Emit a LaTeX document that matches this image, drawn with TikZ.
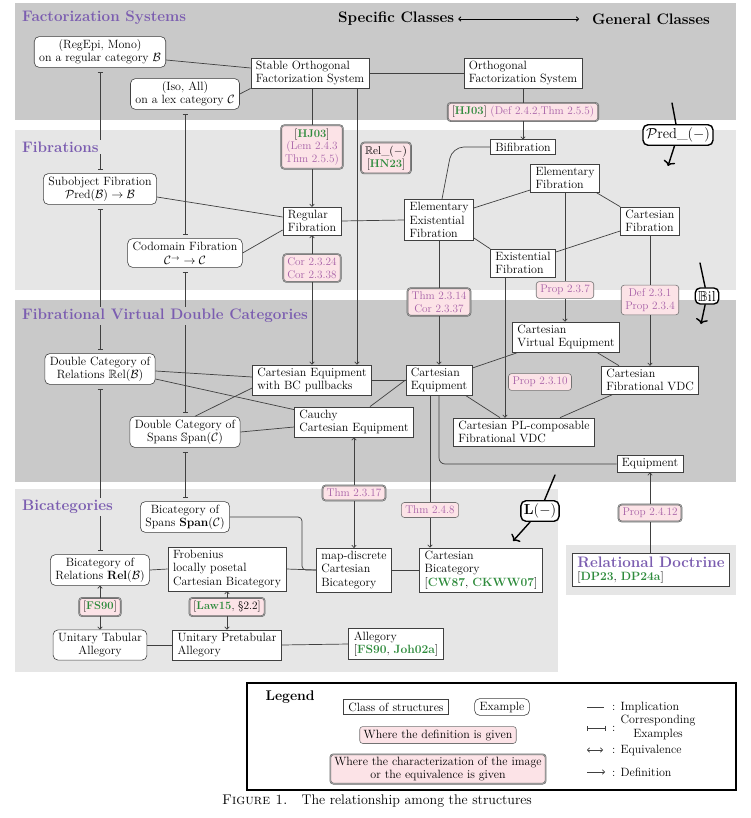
\documentclass[tikz,border=0pt]{standalone}
\usepackage{fix-cm}
\usepackage{amsmath,amssymb}
\usepackage{tikz}
\usetikzlibrary{arrows.meta,positioning,calc}
\usepackage{xcolor}
\definecolor{banddark}{HTML}{C9C9C9}
\definecolor{bandlight}{HTML}{E6E6E6}
\definecolor{headviolet}{HTML}{7B5DB0}
\definecolor{citegreen}{HTML}{2E8B3C}
\definecolor{refpink}{HTML}{A862A8}
\definecolor{labfill}{HTML}{FCE3E7}
\newcommand{\key}[1]{\textbf{\color{citegreen}#1}}
\newcommand{\cit}[1]{{\color{black}[#1]}}
\newcommand{\bodyfont}{\fontsize{12}{13.4}\selectfont}
\newcommand{\labfont}{\fontsize{11.2}{12.6}\selectfont}
\newcommand{\headfont}{\fontsize{15.2}{17}\selectfont\bfseries}

\begin{document}
\begin{tikzpicture}[x=1pt,y=-1pt,>={To[length=3pt,width=5pt]},
  cls/.style={draw=black!75,fill=white,line width=0.6pt,inner xsep=5pt,inner ysep=3pt,align=left,font=\bodyfont},
  exm/.style={cls,rounded corners=5pt,align=center},
  deflab/.style={draw=black!55,fill=labfill,rounded corners=3pt,line width=0.6pt,inner xsep=4pt,inner ysep=3.5pt,align=center,text=refpink,font=\labfont},
  charlab/.style={deflab,draw=black!60,double=black!30,double distance=0.5pt},
  imp/.style={draw=black!75,line width=0.7pt},
  corr/.style={imp,arrows={Bar[width=5pt]-Bar[width=5pt]},shorten <=4pt,shorten >=4pt},
  head/.style={anchor=west,text=headviolet,font=\headfont,inner sep=2pt},
  functor/.style={line width=1.4pt,line cap=round},
  funtip/.style={arrows={-To[length=5pt,width=12pt]}},
  funbox/.style={draw,line width=1.4pt,rounded corners=5pt,fill=white,inner sep=3pt,font=\fontsize{14.5}{16}\selectfont}]
  \useasboundingbox (0,0) rectangle (750,818);
  % Bands
  \fill[banddark] (15,3) rectangle (736,120);
  \fill[bandlight] (15,130) rectangle (736,290);
  \fill[banddark] (15,300) rectangle (736,482);
  \fill[bandlight] (15,489) rectangle (558,672);
  \fill[bandlight] (566,545) rectangle (736,595);

  % Factorization systems
  \node[exm] (exRegEpi) at (100,52) {(RegEpi, Mono)\\on a regular category $\mathcal{B}$};
  \node[exm] (exIso) at (185,94) {(Iso, All)\\on a lex category $\mathcal{C}$};
  \node[cls] (stOFS) at (310,73) {Stable Orthogonal\\Factorization System};
  \node[cls] (OFS) at (523,73) {Orthogonal\\Factorization System};
  \node[charlab] (labOFS) at (523,112) {\cit{\key{HJ03}} (Def 2.4.2,Thm 2.5.5)};

  % Fibrations
  \node[exm] (exSubobj) at (100,189) {Subobject Fibration\\$\mathcal{P}\mathrm{red}(\mathcal{B})\to\mathcal{B}$};
  \node[exm] (exCod) at (185,253) {Codomain Fibration\\[1pt]$\mathcal{C}^{\to}\to\mathcal{C}$};
  \node[cls] (regFib) at (312,221) {Regular\\Fibration};
  \node[cls] (bifib) at (523,147) {Bifibration};
  \node[cls] (elemExFib) at (439,220) {Elementary\\Existential\\Fibration};
  \node[cls] (elemFib) at (565,178) {Elementary\\Fibration};
  \node[cls] (cartFib) at (650,221) {Cartesian\\Fibration};
  \node[cls] (exFib) at (523,263) {Existential\\Fibration};
  \node[charlab] (labHJ) at (312,147) {\cit{\key{HJ03}}\\(Lem 2.4.3\\Thm 2.5.5)};
  \node[charlab] (labRel) at (386,158) {{\color{black}$\mathbb{R}\mathrm{el}\_(-)$}\\\cit{\key{HN23}}};
  \node[charlab] (labCor) at (312,268) {Cor 2.3.24\\Cor 2.3.38};
  \node[charlab] (labThmA) at (439,302) {Thm 2.3.14\\Cor 2.3.37};
  \node[deflab] (labProp237) at (565,290) {Prop 2.3.7};
  \node[deflab] (labDef) at (650,300) {Def 2.3.1\\Prop 2.3.4};

  % Fibrational VDCs
  \node[exm] (exRel2) at (100,369) {Double Category of\\Relations $\mathbb{R}\mathrm{el}(\mathcal{B})$};
  \node[exm] (exSpan2) at (185,432) {Double Category of\\Spans $\mathbb{S}\mathrm{pan}(\mathcal{C})$};
  \node[cls] (CEBC) at (312,380) {Cartesian Equipment\\with BC pullbacks};
  \node[cls] (cauchy) at (354,422) {Cauchy\\Cartesian Equipment};
  \node[cls] (cartEq) at (439,380) {Cartesian\\Equipment};
  \node[cls] (CVE) at (566,337) {Cartesian\\Virtual Equipment};
  \node[cls] (CFVDC) at (650,380) {Cartesian\\Fibrational VDC};
  \node[cls] (PLVDC) at (524,432) {Cartesian PL-composable\\Fibrational VDC};
  \node[cls] (equip) at (650,464) {Equipment};
  \node[deflab] (labProp2310) at (540,382) {Prop 2.3.10};

  % Bicategories
  \node[exm] (exSpanB) at (185,517) {Bicategory of\\Spans $\mathbf{Span}(\mathcal{C})$};
  \node[exm] (exRelB) at (100,570) {Bicategory of\\Relations $\mathbf{Rel}(\mathcal{B})$};
  \node[cls] (frob) at (227,569) {Frobenius\\locally posetal\\Cartesian Bicategory};
  \node[cls] (mapDisc) at (354,570) {map-discrete\\Cartesian\\Bicategory};
  \node[cls] (cartBicat) at (481,570) {Cartesian\\Bicategory\\\cit{\key{CW87}, \key{CKWW07}}};
  \node[exm] (unitTab) at (100,645) {Unitary Tabular\\Allegory};
  \node[cls] (unitPre) at (227,645) {Unitary Pretabular\\Allegory};
  \node[cls] (allegory) at (396,644) {Allegory\\\cit{\key{FS90}, \key{Joh02a}}};
  \node[charlab] (labFS) at (100,607) {\cit{\key{FS90}}};
  \node[charlab] (labLaw) at (227,607) {\cit{\key{Law15}, \S2.2}};
  \node[charlab] (labThmB) at (354,493) {Thm 2.3.17};
  \node[deflab] (labThmC) at (430,510) {Thm 2.4.8};

  % Relational doctrine
  \node[cls] (relDoc) at (651,570) {{\headfont\color{headviolet}Relational Doctrine}\\\cit{\key{DP23}, \key{DP24a}}};
  \node[charlab] (labProp2412) at (650,513) {Prop 2.4.12};

  % Implications
  \draw[imp] ([yshift=-8pt]exRegEpi.east) -- ([yshift=5pt]stOFS.west);
  \draw[imp] (exIso.east) -- (stOFS.south west);
  \draw[imp] (stOFS.east) -- (OFS.west);
  \draw[imp] ([yshift=-8pt]exSubobj.east) -- ([yshift=4pt]regFib.west);
  \draw[imp] (exCod.east) -- ([yshift=-9pt]regFib.west);
  \draw[imp] (regFib.east) -- (elemExFib.west);
  \coordinate (bifibBend) at (452,147);
  \draw[imp,rounded corners=12pt] ([xshift=3pt]elemExFib.north) -- (bifibBend) -- (bifib.west);
  \draw[imp] ([yshift=12pt]elemExFib.east) -- ([yshift=-12pt]elemFib.west);
  \draw[imp] ([yshift=3pt]elemExFib.south east) -- (exFib.north west);
  \draw[imp] ([xshift=-4pt]elemFib.south east) -- (cartFib.north west);
  \draw[imp] ([yshift=11pt]exFib.east) -- ([yshift=-10pt]cartFib.west);
  \draw[imp] ([yshift=-2pt]exRel2.east) -- ([yshift=3pt]CEBC.west);
  \draw[imp] ([yshift=-10pt]exRel2.east) -- ([yshift=-3pt]cauchy.north west);
  \draw[imp] ([xshift=10pt]exSpan2.north) -- ([yshift=-8pt]CEBC.west);
  \draw[imp] (exSpan2.east) -- ([yshift=-5pt]cauchy.west);
  \draw[imp] (CEBC.east) -- (cartEq.west);
  \draw[imp] ([xshift=16pt]cauchy.north) -- (cartEq.west);
  \draw[imp] ([yshift=12pt]cartEq.east) -- ([xshift=6pt]CVE.south west);
  \draw[imp] ([xshift=-7pt]cartEq.south east) -- ([xshift=-24pt]PLVDC.north);
  \draw[imp] ([xshift=-23pt]CVE.south east) -- ([xshift=18pt]CFVDC.north west);
  \draw[imp] ([xshift=-37pt]CFVDC.south) -- ([xshift=36pt]PLVDC.north);
  \draw[imp,rounded corners=6pt] (cartEq.south) |- (equip.west);
  \coordinate (spanBend) at (302,0);
  \draw[imp,rounded corners=4pt] (exSpanB.east) -| (spanBend |- mapDisc.west) -- (mapDisc.west);
  \draw[imp] (exRelB.east) -- (frob.west);
  \draw[imp] (frob.east) -- (mapDisc.west);
  \draw[imp] (mapDisc.east) -- (cartBicat.west);
  \draw[imp] (unitTab.east) -- (unitPre.west);
  \draw[imp] (unitPre.east) -- (allegory.west);

  % Definitions and equivalences
  \draw[imp] (OFS.south) -- (labOFS.north);
  \draw[imp,->] (labOFS.south) -- (bifib.north);
  \draw[imp] (stOFS.south -| labHJ) -- (labHJ.north);
  \draw[imp,->] (labHJ.south) -- (regFib.north);
  \draw[imp,->] (labCor.north) -- (regFib.south);
  \draw[imp,->] (labCor.south) -- (CEBC.north);
  \coordinate (xRel) at (357,0);
  \draw[imp,->] (stOFS.south -| xRel) -- (CEBC.north -| xRel);
  \draw[imp] (elemExFib.south) -- (labThmA.north);
  \draw[imp,->] (labThmA.south) -- (cartEq.north);
  \draw[imp] (elemFib.south) -- (labProp237.north);
  \draw[imp,->] (labProp237.south) -- (CVE.north -| labProp237);
  \draw[imp] (cartFib.south) -- (labDef.north);
  \draw[imp,->] (labDef.south) -- (CFVDC.north);
  \coordinate (xExFib) at (505,0);
  \draw[imp,->] (exFib.south -| xExFib) -- (PLVDC.north -| xExFib);
  \draw[imp,->] (labThmB.north) -- (cauchy.south);
  \draw[imp,->] (labThmB.south) -- (mapDisc.north);
  \draw[imp] (cartEq.south -| labThmC) -- (labThmC.north);
  \draw[imp,->] (labThmC.south) -- (cartBicat.north -| labThmC);
  \draw[imp,->] (labFS.north) -- (exRelB.south);
  \draw[imp,->] (labFS.south) -- (unitTab.north);
  \draw[imp,->] (labLaw.north) -- (frob.south);
  \draw[imp,->] (labLaw.south) -- (unitPre.north);
  \draw[imp] (relDoc.north -| labProp2412) -- (labProp2412.south);
  \draw[imp,->] (labProp2412.north) -- (equip.south);

  % Corresponding examples
  \draw[corr] (exRegEpi.south) -- (exSubobj.north);
  \draw[corr] (exSubobj.south) -- (exRel2.north);
  \draw[corr] (exRel2.south) -- (exRelB.north);
  \draw[corr] (exIso.south) -- (exCod.north);
  \draw[corr] (exCod.south) -- (exSpan2.north);
  \draw[corr] (exSpan2.south) -- (exSpanB.north);

  % Functors between the bands
  \node[funbox] (pred) at (678,135) {$\mathcal{P}\mathrm{red}\_(-)$};
  \coordinate (predIn) at (672,103);
  \coordinate (predOut) at (668,166);
  \draw[functor] (predIn) -- (pred);
  \draw[functor,funtip] (pred) -- (predOut);
  \node[funbox] (bil) at (707,296) {$\mathbb{B}\mathrm{il}$};
  \coordinate (bilIn) at (700,263);
  \coordinate (bilOut) at (701,324);
  \draw[functor] (bilIn) -- (bil);
  \draw[functor,funtip] (bil) -- (bilOut);
  \node[funbox] (lfun) at (540,511) {$\mathbf{L}(-)$};
  \coordinate (lfunIn) at (555,475);
  \coordinate (lfunOut) at (513,541);
  \draw[functor] (lfunIn) -- (lfun);
  \draw[functor,funtip] (lfun) -- (lfunOut);

  % Headings
  \node[head,fill=banddark] (hFact) at (20,18) {Factorization Systems};
  \node[head,fill=bandlight] (hFib) at (20,147) {Fibrations};
  \node[head,fill=banddark] (hVDC) at (20,316) {Fibrational Virtual Double Categories};
  \node[head,fill=bandlight] (hBicat) at (20,507) {Bicategories};
  \node[head,text=black] (spec) at (336,19) {Specific Classes};
  \node[head,text=black] (gen) at (590,19) {General Classes};
  \draw[<->,line width=0.8pt] ([xshift=2pt]spec.east) -- ([xshift=-11pt]gen.west);

  % Legend
  \draw[line width=1.2pt] (247,683) rectangle (736,790);
  \node[anchor=west,font=\fontsize{14}{16}\selectfont\bfseries] (lgTitle) at (262,697) {Legend};
  \node[cls] (lgCls) at (396,707) {Class of structures};
  \node[exm] (lgEx) at (502,707) {Example};
  \node[deflab,text=black,font=\bodyfont,inner ysep=3pt] (lgDef) at (438,735) {Where the definition is given};
  \node[charlab,text=black,font=\bodyfont,inner ysep=2.5pt] (lgChar) at (438,769) {Where the characterization of the image\\or the equivalence is given};
  \node[anchor=west,font=\bodyfont,inner sep=1pt] (lgImp) at (611,707) {: Implication};
  \node[anchor=west,font=\bodyfont,inner sep=1pt] (lgCorr) at (611,728) {: \begin{tabular}{@{}c@{}}Corresponding\\Examples\end{tabular}};
  \node[anchor=west,font=\bodyfont,inner sep=1pt] (lgEqv) at (611,750) {: Equivalence};
  \node[anchor=west,font=\bodyfont,inner sep=1pt] (lgDfn) at (611,772) {: Definition};
  \draw[imp] ([xshift=-24pt]lgImp.west) -- ([xshift=-7pt]lgImp.west);
  \draw[imp,arrows={Bar[width=5pt]-Bar[width=5pt]}] ([xshift=-24pt]lgCorr.west) -- ([xshift=-5pt]lgCorr.west);
  \draw[imp,<->] ([xshift=-24pt]lgEqv.west) -- ([xshift=-8pt]lgEqv.west);
  \draw[imp,->] ([xshift=-24pt]lgDfn.west) -- ([xshift=-6pt]lgDfn.west);
  \node[font=\fontsize{14}{16}\selectfont] (caption) at (377,801) {\textsc{Figure 1.}\quad The relationship among the structures};
\end{tikzpicture}
\end{document}
